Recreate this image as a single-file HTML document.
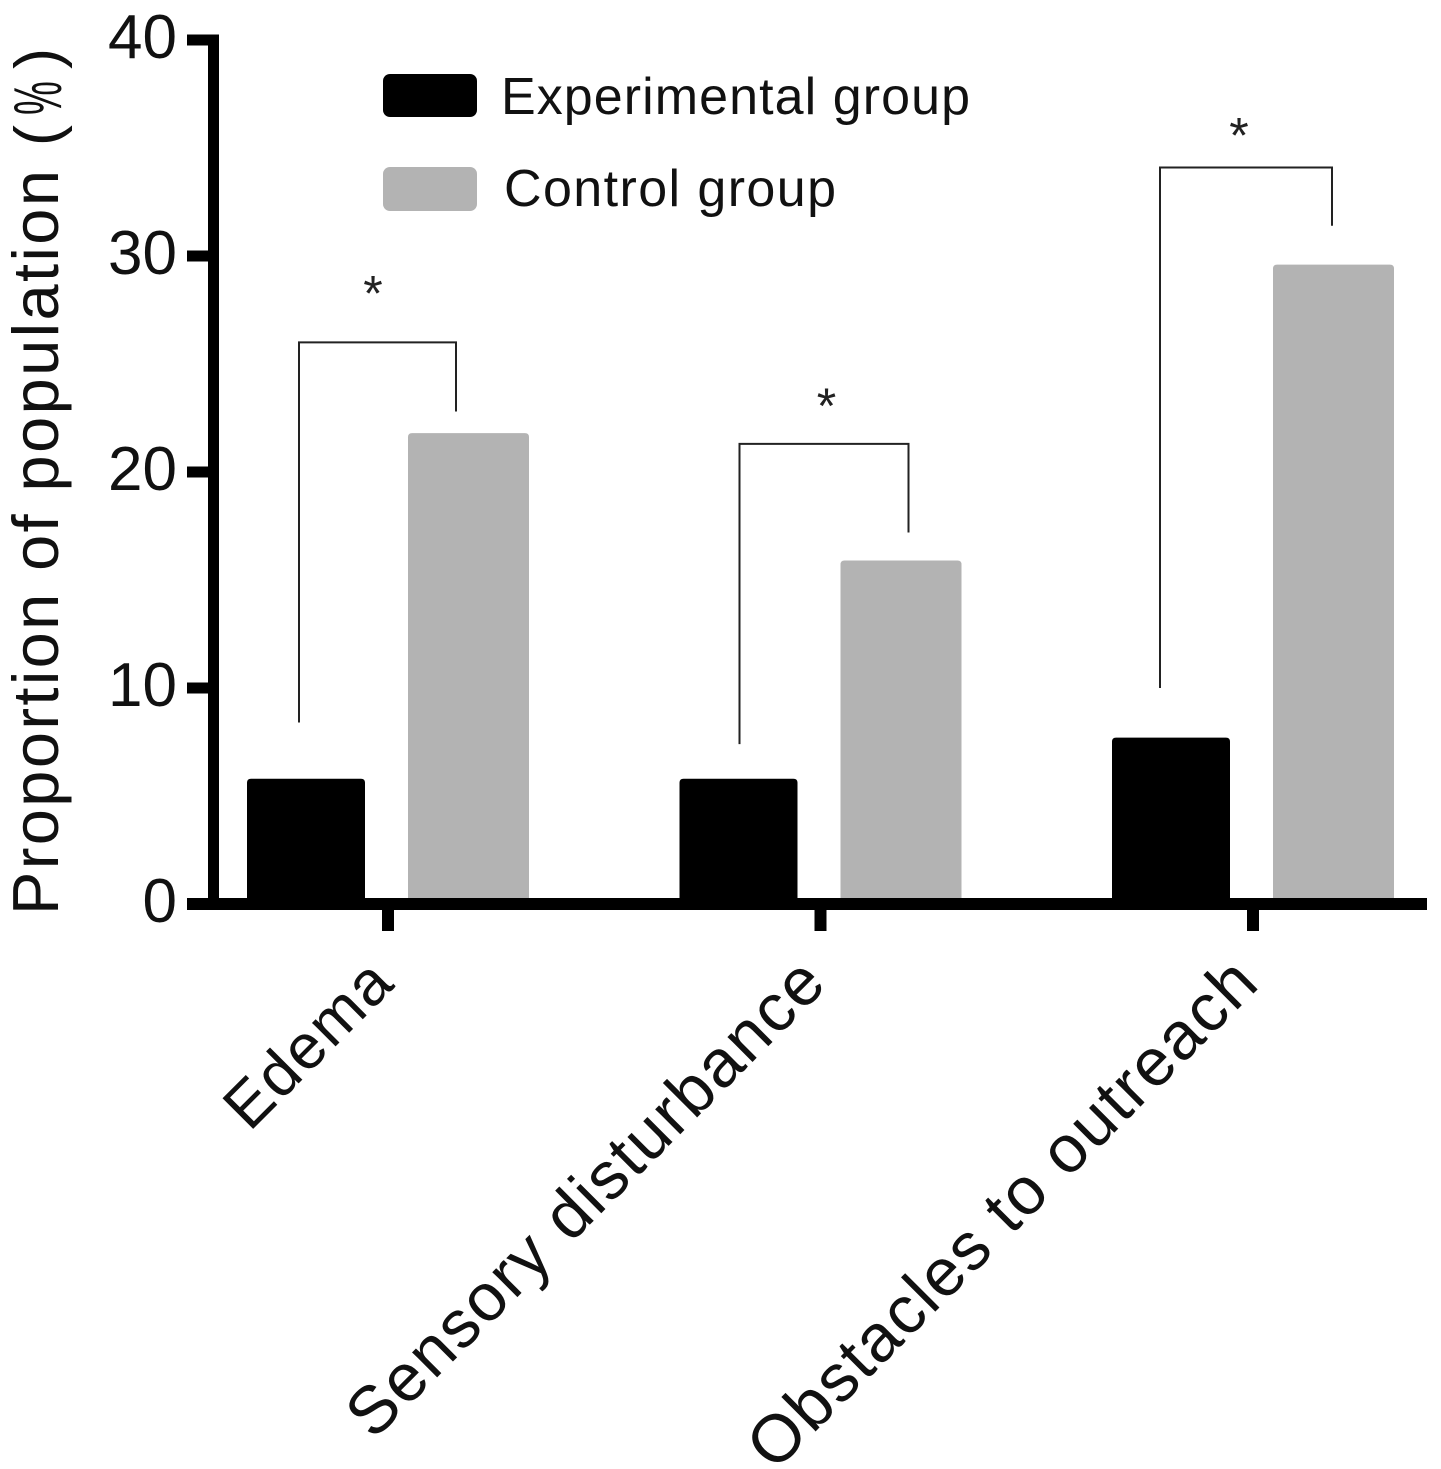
<!DOCTYPE html>
<html>
<head>
<meta charset="utf-8">
<title>Proportion of population chart</title>
<style>
html,body{margin:0;padding:0;background:#fff;}
svg{display:block;font-family:"Liberation Sans",sans-serif;}
</style>
</head>
<body>
<svg id="chart" width="1441" height="1469" viewBox="0 0 1441 1469" xmlns="http://www.w3.org/2000/svg">
<rect x="0" y="0" width="1441" height="1469" fill="#ffffff"/>
<g fill="#111">
<text transform="translate(58,915) rotate(-90)" font-size="65" textLength="745">Proportion of population</text>
<text transform="translate(59,146) rotate(-90)" font-size="63">(</text>
<text transform="translate(61,115) rotate(-90) scale(0.56,1)" font-size="68">%</text>
<text transform="translate(59,69) rotate(-90)" font-size="63">)</text>
</g>
<g>
<rect x="383" y="74" width="94" height="43" rx="7" fill="#000"/>
<text x="501" y="114" font-size="52" textLength="469" fill="#111">Experimental group</text>
<rect x="383" y="167" width="94" height="44" rx="7" fill="#b3b3b3"/>
<text x="504" y="206" font-size="52" textLength="332" fill="#111">Control group</text>
</g>
</svg>
<script>
const categories = ["Edema", "Sensory disturbance", "Obstacles to outreach"];
const experimentalValues = [5.8, 5.8, 7.7];
const controlValues = [21.8, 15.9, 29.6];
const yTicks = [0, 10, 20, 30, 40];
const bracketTopValues = [26.0, 21.3, 34.1];
const bracketLeftValues = [8.4, 7.4, 10.0];
const bracketRightValues = [22.8, 17.2, 31.4];

const NS = "http://www.w3.org/2000/svg";
const svg = document.getElementById("chart");
function y(v) { return 904 - v * 21.6; }
function x(i) { return 388 + i * 432.5; }
function make(tag, attrs, parent) {
  const el = document.createElementNS(NS, tag);
  for (const k in attrs) el.setAttribute(k, attrs[k]);
  (parent || svg).appendChild(el);
  return el;
}
function barPath(left, width, top, bottom, r) {
  return "M" + left + " " + bottom + "V" + (top + r) + "Q" + left + " " + top + " " + (left + r) + " " + top +
    "H" + (left + width - r) + "Q" + (left + width) + " " + top + " " + (left + width) + " " + (top + r) + "V" + bottom + "Z";
}
const bracketLeftOffset = [-89, -81, -93];
const bracketRightOffset = [68, 88, 79];
const starOffset = [-15, 6, -14];
const starGap = [32, 21, 15];
const labelFontSize = [63, 67, 67];

categories.forEach(function (name, i) {
  const e = make("path", { d: barPath(x(i) - 141, 118, y(experimentalValues[i]), 900, 4), fill: "#000" });
  
  
  const c = make("path", { d: barPath(x(i) + 20, 121, y(controlValues[i]), 900, 4), fill: "#b3b3b3" });
  
  

  const lx = x(i) + bracketLeftOffset[i], rx = x(i) + bracketRightOffset[i];
  const b = make("path", {
    d: "M" + lx + " " + y(bracketLeftValues[i]) + "V" + y(bracketTopValues[i]) + "H" + rx + "V" + y(bracketRightValues[i]),
    fill: "none", stroke: "#222", "stroke-width": 2
  });
  
  

  const s = make("text", { x: x(i) + starOffset[i], y: y(bracketTopValues[i]) - starGap[i], "font-size": 50, "text-anchor": "middle", fill: "#222" });
  
  
  s.textContent = "*";

  const t = make("rect", { x: x(i) - 6, y: 904, width: 12, height: 27, fill: "#000" });
  
  

  const l = make("text", { transform: "translate(" + (x(i) + 9) + ",985) rotate(-45)", "font-size": labelFontSize[i], "letter-spacing": 1.8, "text-anchor": "end", fill: "#111" });
  
  
  l.textContent = name;
});

const yAxis = make("rect", { x: 208, y: y(40) - 5.5, width: 11, height: y(0) - y(40) + 11, fill: "#000" });


const xAxis = make("rect", { x: 187, y: 898, width: 1240, height: 12, fill: "#000" });



yTicks.forEach(function (v) {
  const t = make("rect", { x: 187, y: y(v) - 5.5, width: 22, height: 11, fill: "#000" });
  
  
  const l = make("text", { x: 177, y: y(v) + 18, "font-size": 62, "text-anchor": "end", fill: "#111" });
  
  
  l.textContent = v;
});
</script>
</body>
</html>
